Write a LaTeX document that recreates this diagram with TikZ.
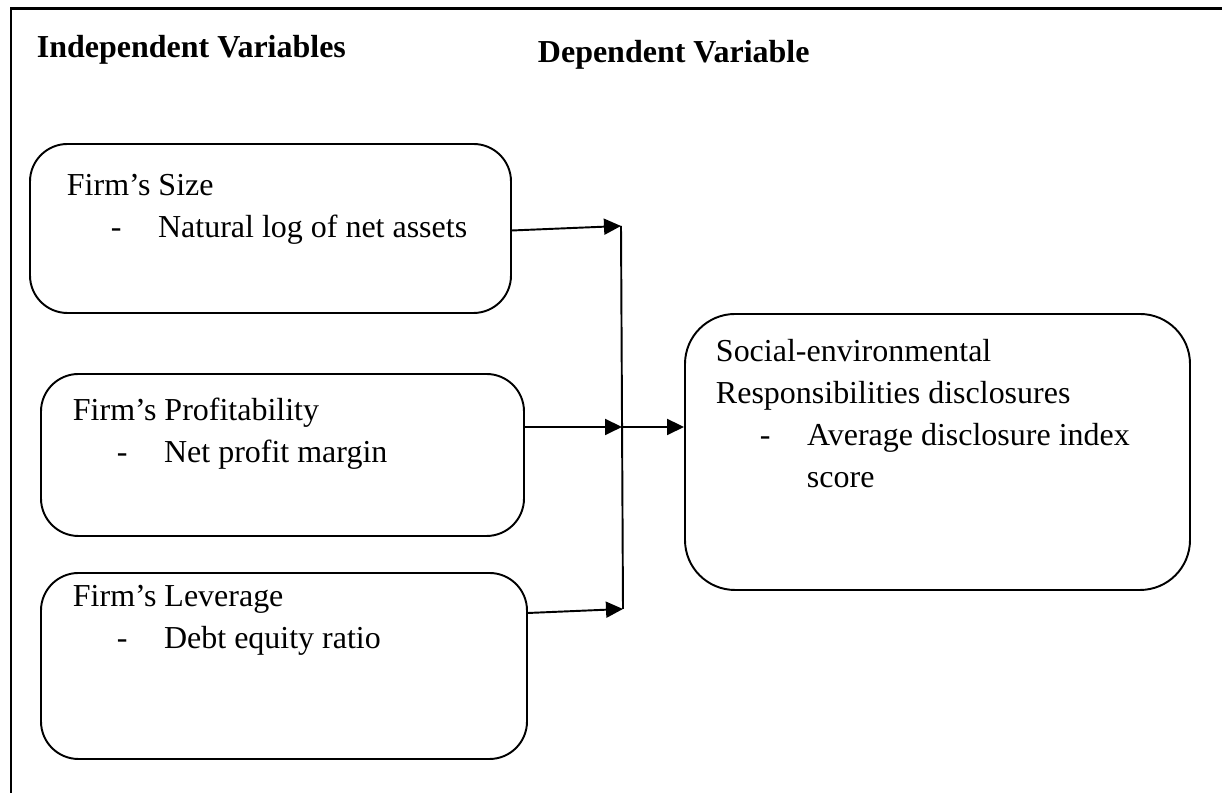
\documentclass[tikz,border=0pt]{standalone}
\usepackage{fontspec}
\setmainfont{Liberation Serif}
\usetikzlibrary{arrows.meta, positioning, calc}
\tikzset{
  every picture/.style={line width=1.1pt},
  box/.style={draw=black, rounded corners=#1},
  box/.default=0.75cm,
  arrow/.style={-{Triangle[length=0.34cm, width=0.32cm]}, draw=black, line width=1.1pt},
  title/.style={font=\fontsize{18.2}{23.9}\selectfont\bfseries, anchor=base west, inner sep=0pt},
  note/.style={font=\fontsize{18.2}{23.9}\selectfont, align=left, anchor=base west, inner sep=0pt},
}

\begin{document}
\begin{tikzpicture}[
    var/.style={box, minimum width=9.66cm},
  ]
  \newcommand{\itm}[1]{\\\hspace*{0.88cm}-\hspace*{0.73cm}#1}
  \useasboundingbox (0,0) rectangle (24.44,15.86);
  \draw[line width=1.7pt] (0.22,0) -- (0.22,15.68) -- (24.44,15.68);

  \node[title] (indep) at (0.72,14.70) {Independent Variables};
  \node[title] (dephd) at (10.74,14.60) {Dependent Variable};

  % independent variables
  \node[var, minimum width=9.62cm, minimum height=3.38cm] (size) at (5.41,11.29) {};
  \node[var, minimum height=3.24cm] (prof) at (5.65,6.76) {};
  \node[var, minimum width=9.72cm, minimum height=3.72cm] (lev) at (5.68,2.54) {};
  \node[note] (sizet) at (1.32,11.10) {Firm’s Size\itm{Natural log of net assets}};
  \node[note] (proft) at (1.44,6.60) {Firm’s Profitability\itm{Net profit margin}};
  \node[note] (levt) at (1.44,2.88) {Firm’s Leverage\itm{Debt equity ratio}};

  % dependent variable
  \node[box=1.0cm, minimum width=10.10cm, minimum height=5.52cm] (dep) at (18.75,6.82) {};
  \node[note] (dept) at (14.30,6.10) {Social-environmental\\Responsibilities disclosures\itm{Average disclosure index}\\\hspace*{1.82cm}score};

  \coordinate (jtop) at (12.42,11.34);
  \coordinate (jmid) at (12.44,7.32);
  \coordinate (jbot) at (12.46,3.68);
  \draw (jtop) -- (jbot);
  \draw[arrow] ([yshift=-0.04cm]size.east) -- (jtop);
  \draw[arrow] (prof.east |- jmid) -- (jmid);
  \draw[arrow] ([yshift=-0.08cm]lev.east |- jbot) -- (jbot);
  \draw[arrow] (jmid) -- (dep.west |- jmid);
\end{tikzpicture}
\end{document}
